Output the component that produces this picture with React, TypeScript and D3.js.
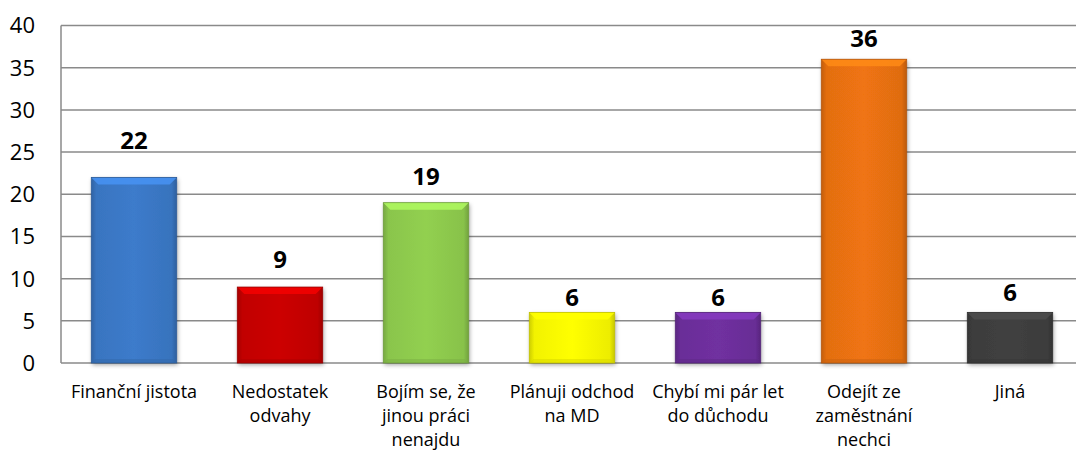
import React from "react";
import * as d3 from "d3";

const categories: string[][] = [
  ["Finanční jistota"],
  ["Nedostatek", "odvahy"],
  ["Bojím se, že", "jinou práci", "nenajdu"],
  ["Plánuji odchod", "na MD"],
  ["Chybí mi pár let", "do důchodu"],
  ["Odejít ze", "zaměstnání", "nechci"],
  ["Jiná"],
];
const values: number[] = [22, 9, 19, 6, 6, 36, 6];
const colors: string[] = ["#3c7bcb", "#cc0000", "#92d050", "#ffff00", "#7030a0", "#f07412", "#404040"];
const yTicks: number[] = [0, 5, 10, 15, 20, 25, 30, 35, 40];
// gap (px) between each value label's baseline and its bar top, as placed in the reference
const labelGap: number[] = [28, 19, 18, 6, 6, 12, 11];

const W = 1076;
const H = 453;
const left = 61;
const right = 1083;
const top = 25.5;
const bottom = 363;
const FONT = "'Open Sans', Lato, sans-serif";

export default function App() {
  const x = d3.scaleBand<number>().domain(d3.range(values.length)).range([left, right]).padding(0);
  const y = d3.scaleLinear().domain([0, 40]).range([bottom, top]);
  const bw = x.bandwidth() * 0.585;

  return (
    <svg
      width={W}
      height={H}
      style={{ position: "absolute", left: 0, top: 0, background: "#fff", overflow: "hidden" }}
    >
      <defs>
        <filter id="sh" x="-20%" y="-20%" width="140%" height="140%">
          <feDropShadow dx="1" dy="2" stdDeviation="2" floodColor="#000" floodOpacity="0.35" />
        </filter>
        {colors.map((c, i) => {
          const base = d3.color(c)!;
          return (
            <linearGradient key={i} id={`g${i}`} x1="0" x2="1" y1="0" y2="0">
              <stop offset="0" stopColor={base.darker(0.6).formatHex()} />
              <stop offset="0.06" stopColor={base.darker(0.15).formatHex()} />
              <stop offset="0.5" stopColor={base.formatHex()} />
              <stop offset="0.94" stopColor={base.darker(0.2).formatHex()} />
              <stop offset="1" stopColor={base.darker(0.7).formatHex()} />
            </linearGradient>
          );
        })}
      </defs>

      {yTicks.map((t) => (
        <line key={t} x1={left} x2={W} y1={y(t)} y2={y(t)} stroke="#8a8a8a" strokeWidth={1.5} />
      ))}
      <line x1={left} x2={left} y1={top} y2={bottom} stroke="#8a8a8a" strokeWidth={1.5} />

      {yTicks.map((t) => (
        <text
          key={t}
          x={35}
          y={y(t)}
          dy="0.36em"
          textAnchor="end"
          fontFamily={FONT}
          fontSize={22}
          fill="#000"
        >
          {t}
        </text>
      ))}

      {values.map((v, i) => {
        const cx = x(i)! + x.bandwidth() / 2;
        const x0 = cx - bw / 2;
        const x1 = cx + bw / 2;
        const y0 = y(v);
        const y1 = y(0);
        const b = 7;
        const base = d3.color(colors[i])!;
        const light = d3.color(colors[i])!.brighter(0.5).formatHex();
        const dark = base.darker(0.5).formatHex();
        return (
          <g key={i}>
            <rect x={x0} y={y0} width={bw} height={y1 - y0} fill={`url(#g${i})`} filter="url(#sh)" />
            <polygon
              points={`${x0},${y0} ${x1},${y0} ${x1 - b},${y0 + b} ${x0 + b},${y0 + b}`}
              fill={light}
              opacity={0.85}
            />
            <polygon
              points={`${x0},${y1} ${x1},${y1} ${x1 - 4},${y1 - 4} ${x0 + 4},${y1 - 4}`}
              fill={dark}
              opacity={0.5}
            />
            <rect x={x0} y={y0} width={bw} height={y1 - y0} fill="none" stroke={base.darker(0.8).formatHex()} strokeWidth={0.8} />
            <text
              x={cx}
              y={y0 - labelGap[i]}
              textAnchor="middle"
              fontFamily={FONT}
              fontWeight="bold"
              fontSize={24}
              fill="#000"
            >
              {v}
            </text>
          </g>
        );
      })}

      {categories.map((lines, i) => {
        const cx = x(i)! + x.bandwidth() / 2;
        return (
          <text key={i} textAnchor="middle" fontFamily={FONT} fontSize={18} fill="#000">
            {lines.map((l, j) => (
              <tspan key={j} x={cx} y={398 + j * 24}>
                {l}
              </tspan>
            ))}
          </text>
        );
      })}
    </svg>
  );
}
